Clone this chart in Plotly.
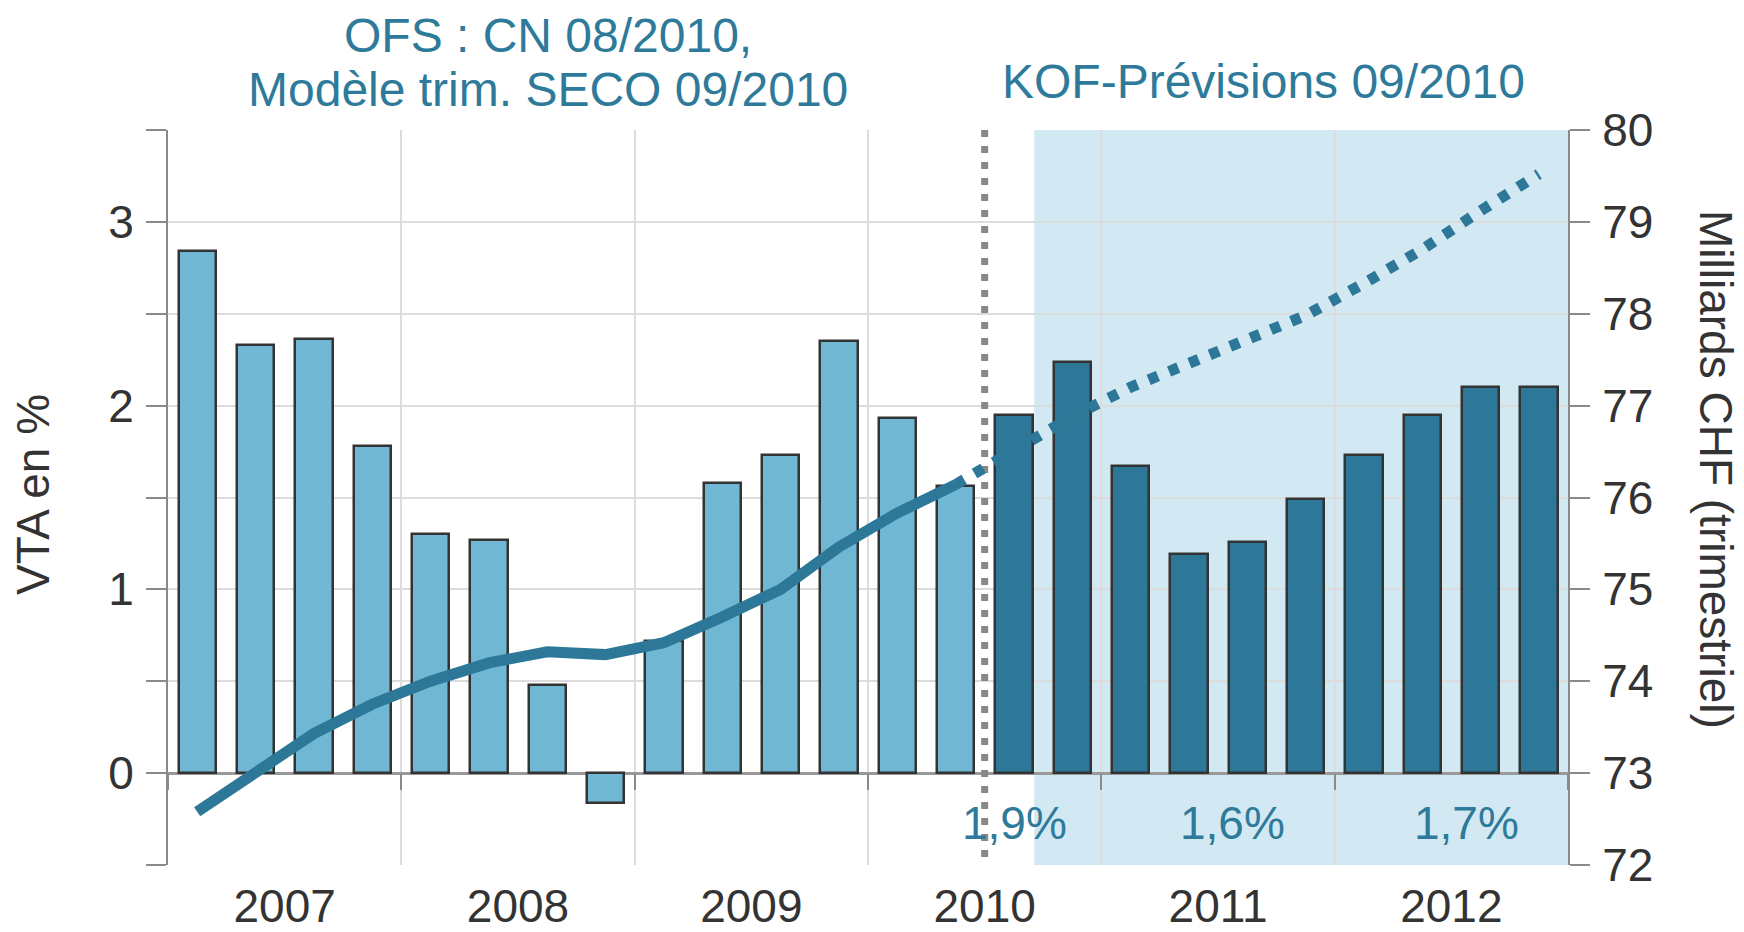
import plotly.graph_objects as go

# ---------------- data ----------------
years = ["2007", "2008", "2009", "2010", "2011", "2012"]
quarters_per_year = 4
# VTA (variation vs. previous year, %) per quarter 2007Q1..2012Q4
vta = [2.84, 2.33, 2.36, 1.78,
       1.30, 1.27, 0.48, -0.16,
       0.72, 1.58, 1.73, 2.35,
       1.93, 1.56, 1.95, 2.24,
       1.67, 1.19, 1.26, 1.49,
       1.73, 1.95, 2.10, 2.10]
# Level, billions CHF (quarterly)
level = [72.58, 73.02, 73.43, 73.75,
         74.00, 74.20, 74.32, 74.29,
         74.42, 74.70, 75.00, 75.46,
         75.83, 76.14, 76.50, 76.88,
         77.20, 77.45, 77.70, 77.98,
         78.33, 78.70, 79.12, 79.52]
forecast_start = 14          # first forecast quarter (2010Q3)
line_last_observed = 13      # last observed quarter of the level (2010Q2)
annual_labels = ["1,9%", "1,6%", "1,7%"]

# ---------------- styles ----------------
LIGHT = "#70B7D4"
DARK = "#2D7898"
TEAL = "#2E7A9A"
SHADE = "#D2E8F2"
GRID = "#DCDCDC"
AXIS = "#8A8A8A"
TXT = "#333333"
FONT = "Liberation Sans, Arial, sans-serif"
FS = 46
FS_T = 48

W, H = 1744, 932
L, R, T, B = 168, 1568, 130, 865   # plot area on screen


def px_x(px):
    return (px - L) / (R - L)


def px_y(py):
    return 1 - (py - T) / (B - T)


n = len(vta)
xs = list(range(n))
bar_colors = [LIGHT if i < forecast_start else DARK for i in xs]
n_years = len(years)
year_centers = [i * quarters_per_year + (quarters_per_year - 1) / 2 for i in range(n_years)]
year_bounds = [i * quarters_per_year - 0.5 for i in range(n_years + 1)]

fig = go.Figure()

fig.add_trace(go.Bar(
    x=xs, y=vta, width=0.64,
    marker=dict(color=bar_colors, line=dict(color="#333333", width=2.5)),
    xaxis="x", yaxis="y", showlegend=False,
))

fig.add_trace(go.Scatter(
    x=xs[:line_last_observed + 1], y=level[:line_last_observed + 1],
    mode="lines", line=dict(color=DARK, width=11),
    xaxis="x2", yaxis="y2", showlegend=False,
))
fig.add_trace(go.Scatter(
    x=xs[line_last_observed:], y=level[line_last_observed:],
    mode="lines", line=dict(color=DARK, width=11, dash="10px,12px"),
    xaxis="x2", yaxis="y2", showlegend=False,
))

# forecast shading
fig.add_shape(type="rect", xref="x", yref="paper",
              x0=forecast_start + 0.35, x1=n - 0.5, y0=0, y1=1,
              fillcolor=SHADE, line_width=0, layer="below")
# vertical dotted separator
fig.add_shape(type="line", xref="x", yref="y",
              x0=forecast_start - 0.5, x1=forecast_start - 0.5, y0=3.5, y1=-0.46,
              line=dict(color="#888888", width=7, dash="7px,9px"), layer="between")

half_ticks = [v / 2 for v in range(-1, 8)]
fig.update_layout(
    template="none",
    width=W, height=H,
    margin=dict(l=L, r=W - R, t=T, b=H - B, autoexpand=False),
    paper_bgcolor="white", plot_bgcolor="white",
    font=dict(family=FONT, size=FS, color=TXT),
    bargap=0,
    xaxis=dict(range=[-0.5, n - 0.5], tickvals=year_centers, ticktext=years,
               showgrid=False, zeroline=False, showline=False, ticks="",
               automargin=False,
               tickfont=dict(size=FS, color=TXT), ticklabelstandoff=10),
    xaxis2=dict(overlaying="x", matches="x", anchor="free", position=0.125,
                tickvals=year_bounds, showticklabels=False, automargin=False,
                ticks="outside", ticklen=16, tickwidth=2, tickcolor=AXIS,
                showgrid=True, gridcolor=GRID, gridwidth=2,
                showline=False, zeroline=False),
    yaxis=dict(range=[-0.5, 3.5], tickvals=half_ticks,
               ticktext=[("%d" % v) if float(v).is_integer() else "" for v in half_ticks],
               showgrid=True, gridcolor=GRID, gridwidth=2, automargin=False,
               zeroline=True, zerolinecolor="#999999", zerolinewidth=3,
               showline=True, linecolor=AXIS, linewidth=2,
               ticks="outside", ticklen=20, tickwidth=2, tickcolor=AXIS,
               tickfont=dict(size=FS, color=TXT), ticklabelstandoff=3),
    yaxis2=dict(range=[72, 80], tickvals=list(range(72, 81)),
                overlaying="y", anchor="x2", side="right", automargin=False,
                showgrid=False, zeroline=False,
                showline=True, linecolor=AXIS, linewidth=2,
                ticks="outside", ticklen=20, tickwidth=2, tickcolor=AXIS,
                tickfont=dict(size=FS, color=TXT), ticklabelstandoff=3),
)

ann = [
    dict(text="OFS : CN 08/2010,", x=px_x(548), y=px_y(36)),
    dict(text="Modèle trim. SECO 09/2010", x=px_x(548), y=px_y(89)),
    dict(text="KOF-Prévisions 09/2010", x=px_x(1263), y=px_y(81)),
]
for a in ann:
    fig.add_annotation(xref="paper", yref="paper", xanchor="center", yanchor="middle",
                       showarrow=False, font=dict(size=FS_T, color=TEAL, family=FONT), **a)

for lbl, px in zip(annual_labels, [1014, 1232, 1466]):
    fig.add_annotation(text=lbl, xref="paper", yref="paper", x=px_x(px), y=px_y(823),
                       xanchor="center", yanchor="middle", showarrow=False,
                       font=dict(size=FS, color=TEAL, family=FONT))

fig.add_annotation(text="VTA en %", xref="paper", yref="paper", x=px_x(33), y=px_y(495),
                   textangle=-90, xanchor="center", yanchor="middle", showarrow=False,
                   font=dict(size=FS, color=TXT, family=FONT))
fig.add_annotation(text="Milliards CHF (trimestriel)", xref="paper", yref="paper",
                   x=px_x(1716), y=px_y(469), textangle=90, xanchor="center",
                   yanchor="middle", showarrow=False,
                   font=dict(size=FS, color=TXT, family=FONT))

# the page body has a default 8px margin: remove it so the figure fills the window
fig.write_html("out.html", config={"displayModeBar": False},
               post_script="document.body.style.margin='0';document.body.style.overflow='hidden';")
